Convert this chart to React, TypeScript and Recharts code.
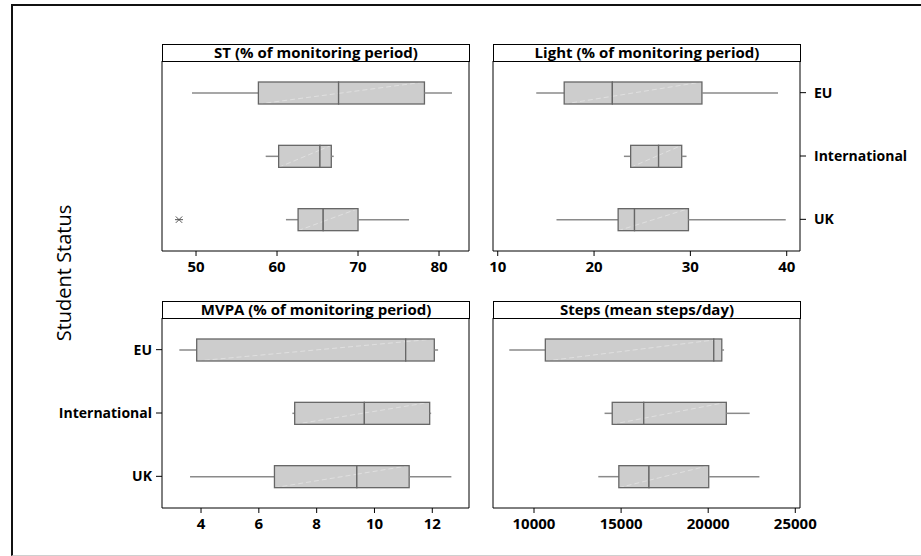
import React from 'react';
import { ComposedChart, Bar, XAxis, YAxis } from 'recharts';

const categories = ['EU', 'International', 'UK'];

const stLow = [49.5, 58.6, 61.1];
const stQ1 = [57.7, 60.2, 62.6];
const stMedian = [67.6, 65.3, 65.7];
const stQ3 = [78.2, 66.7, 70.0];
const stHigh = [81.6, 67.0, 76.3];
const stOutliers: (number | null)[] = [null, null, 47.9];
const stTicks = [50, 60, 70, 80];

const lightLow = [14.0, 23.1, 16.1];
const lightQ1 = [16.9, 23.8, 22.5];
const lightMedian = [21.9, 26.7, 24.2];
const lightQ3 = [31.2, 29.1, 29.8];
const lightHigh = [39.1, 29.6, 39.9];
const lightOutliers: (number | null)[] = [null, null, null];
const lightTicks = [10, 20, 30, 40];

const mvpaLow = [3.25, 7.16, 3.62];
const mvpaQ1 = [3.85, 7.24, 6.54];
const mvpaMedian = [11.08, 9.65, 9.39];
const mvpaQ3 = [12.07, 11.91, 11.2];
const mvpaHigh = [12.2, 11.96, 12.66];
const mvpaOutliers: (number | null)[] = [null, null, null];
const mvpaTicks = [4, 6, 8, 10, 12];

const stepsLow = [8580, 14050, 13690];
const stepsQ1 = [10650, 14490, 14870];
const stepsMedian = [20320, 16300, 16600];
const stepsQ3 = [20780, 21040, 20030];
const stepsHigh = [20910, 22380, 22940];
const stepsOutliers: (number | null)[] = [null, null, null];
const stepsTicks = [10000, 15000, 20000, 25000];

function buildRows(low: number[], q1: number[], med: number[], q3: number[], high: number[], out: (number | null)[]) {
  return categories.map((c, i) => {
    const start = out[i] != null ? (out[i] as number) : low[i];
    return {
      status: c,
      q1: q1[i],
      med: med[i],
      q3: q3[i],
      base: start,
      gap: low[i] - start,
      w1: q1[i] - low[i],
      b1: med[i] - q1[i],
      b2: q3[i] - med[i],
      w2: high[i] - q3[i],
    };
  });
}

const FONT = "'Open Sans', 'Noto Sans', sans-serif";
const BOX_FILL = '#cdcdcd';
const BOX_STROKE = '#666666';
const WHISKER = '#8a8a8a';

const EmptyShape = () => <g />;

const OutlierShape = (p: any) => {
  if (!p.width || p.width <= 0) return <g />;
  const cx = p.x;
  const cy = p.y + p.height / 2;
  const r = 4;
  return (
    <g stroke="#555" strokeWidth={1}>
      <line x1={cx - r} y1={cy} x2={cx + r} y2={cy} />
      <line x1={cx - r * 0.8} y1={cy - r * 0.8} x2={cx + r * 0.8} y2={cy + r * 0.8} />
      <line x1={cx - r * 0.8} y1={cy + r * 0.8} x2={cx + r * 0.8} y2={cy - r * 0.8} />
    </g>
  );
};

const WhiskerShape = (p: any) => {
  if (!p.width || p.width <= 0) return <g />;
  const cy = p.y + p.height / 2;
  return <line x1={p.x} y1={cy} x2={p.x + p.width} y2={cy} stroke={WHISKER} strokeWidth={1.5} />;
};

const makeBoxShape = (lower: boolean) => (p: any) => {
  const { x, y, width, height, payload } = p;
  if (width == null || width < 0) return <g />;
  const f = (payload.med - payload.q1) / (payload.q3 - payload.q1);
  const yMid = y + height * (1 - f);
  const d = lower
    ? { x1: x, y1: y + height, x2: x + width, y2: yMid }
    : { x1: x, y1: yMid, x2: x + width, y2: y };
  return (
    <g>
      <rect x={x} y={y} width={width} height={height} fill={BOX_FILL} />
      <line {...d} stroke="#ffffff" strokeOpacity={0.45} strokeWidth={0.8} strokeDasharray="5 3" />
      <rect x={x} y={y} width={width} height={height} fill="none" stroke={BOX_STROKE} strokeWidth={1.3} />
    </g>
  );
};
const LowerBox = makeBoxShape(true);
const UpperBox = makeBoxShape(false);

const yTickStyle = { fill: '#000', fontSize: 14, fontWeight: 700, fontFamily: FONT };
const xTickStyle = { fill: '#000', fontSize: 15, fontWeight: 700, fontFamily: FONT };

type PanelProps = {
  chartLeft: number;
  leftW: number;
  rightW: number;
  plotTop: number;
  title: string;
  rows: any[];
  domain: [number, number];
  ticks: number[];
  labels: 'left' | 'right' | 'none';
};

const PLOT_W = 307;
const PLOT_H = 190;
const XAXIS_H = 32;

function Panel({ chartLeft, leftW, rightW, plotTop, title, rows, domain, ticks, labels }: PanelProps) {
  const barAxis = labels === 'right' ? 'r' : 'l';
  return (
    <>
      <div
        style={{
          position: 'absolute',
          left: chartLeft + leftW,
          top: plotTop - 17,
          width: PLOT_W + 1,
          height: 18,
          boxSizing: 'border-box',
          border: '1px solid #000',
          fontFamily: FONT,
          fontWeight: 700,
          fontSize: 15,
          lineHeight: '15px',
          textAlign: 'center',
          color: '#000',
          whiteSpace: 'nowrap',
        }}
      >
        {title}
      </div>
      <div style={{ position: 'absolute', left: chartLeft, top: plotTop }}>
        <ComposedChart
          width={leftW + PLOT_W + rightW}
          height={PLOT_H + XAXIS_H}
          data={rows}
          layout="vertical"
          margin={{ top: 0, right: 0, bottom: 0, left: 0 }}
          barSize={22}
        >
          <XAxis
            type="number"
            domain={domain}
            allowDataOverflow
            ticks={ticks}
            interval={0}
            height={XAXIS_H}
            axisLine={{ stroke: '#000', strokeWidth: 1 }}
            tickLine={{ stroke: '#000' }}
            tickSize={5}
            tickMargin={5}
            tick={xTickStyle}
          />
          <YAxis
            yAxisId="l"
            type="category"
            dataKey="status"
            orientation="left"
            width={leftW}
            axisLine={{ stroke: '#000', strokeWidth: 1 }}
            tickLine={labels === 'left' ? { stroke: '#000' } : false}
            tick={labels === 'left' ? yTickStyle : false}
            tickSize={6}
            tickMargin={4}
            interval={0}
          />
          <YAxis
            yAxisId="r"
            type="category"
            dataKey="status"
            orientation="right"
            width={rightW}
            axisLine={{ stroke: '#000', strokeWidth: 1 }}
            tickLine={labels === 'right' ? { stroke: '#000' } : false}
            tick={labels === 'right' ? yTickStyle : false}
            tickSize={6}
            tickMargin={8}
            interval={0}
          />
          <Bar yAxisId={barAxis} dataKey="base" stackId="s" shape={EmptyShape} isAnimationActive={false} />
          <Bar yAxisId={barAxis} dataKey="gap" stackId="s" shape={OutlierShape} isAnimationActive={false} />
          <Bar yAxisId={barAxis} dataKey="w1" stackId="s" shape={WhiskerShape} isAnimationActive={false} />
          <Bar yAxisId={barAxis} dataKey="b1" stackId="s" shape={LowerBox} isAnimationActive={false} />
          <Bar yAxisId={barAxis} dataKey="b2" stackId="s" shape={UpperBox} isAnimationActive={false} />
          <Bar yAxisId={barAxis} dataKey="w2" stackId="s" shape={WhiskerShape} isAnimationActive={false} />
        </ComposedChart>
      </div>
    </>
  );
}

export default function App() {
  const stRows = buildRows(stLow, stQ1, stMedian, stQ3, stHigh, stOutliers);
  const lightRows = buildRows(lightLow, lightQ1, lightMedian, lightQ3, lightHigh, lightOutliers);
  const mvpaRows = buildRows(mvpaLow, mvpaQ1, mvpaMedian, mvpaQ3, mvpaHigh, mvpaOutliers);
  const stepsRows = buildRows(stepsLow, stepsQ1, stepsMedian, stepsQ3, stepsHigh, stepsOutliers);
  return (
    <div style={{ position: 'absolute', left: 0, top: 0, width: 921, height: 556, background: '#fff', overflow: 'hidden' }}>
      <div
        style={{
          position: 'absolute',
          left: 11,
          top: 4,
          right: 0,
          bottom: 0,
          borderLeft: '2px solid #111',
          borderTop: '2px solid #111',
          borderBottom: '1px solid #cfcfcf',
        }}
      />
      <div
        style={{
          position: 'absolute',
          left: 63,
          top: 273,
          transform: 'translate(-50%, -50%) rotate(-90deg)',
          fontFamily: FONT,
          fontSize: 20,
          color: '#000',
          whiteSpace: 'nowrap',
        }}
      >
        Student Status
      </div>
      <Panel chartLeft={0} leftW={162} rightW={10} plotTop={61} title="ST (% of monitoring period)" rows={stRows} domain={[45.8, 83.7]} ticks={stTicks} labels="none" />
      <Panel chartLeft={488} leftW={5} rightW={128} plotTop={61} title="Light (% of monitoring period)" rows={lightRows} domain={[9.51, 41.38]} ticks={lightTicks} labels="right" />
      <Panel chartLeft={0} leftW={162} rightW={10} plotTop={318} title="MVPA (% of monitoring period)" rows={mvpaRows} domain={[2.65, 13.27]} ticks={mvpaTicks} labels="left" />
      <Panel chartLeft={488} leftW={5} rightW={128} plotTop={318} title="Steps (mean steps/day)" rows={stepsRows} domain={[7646, 25270]} ticks={stepsTicks} labels="none" />
    </div>
  );
}
